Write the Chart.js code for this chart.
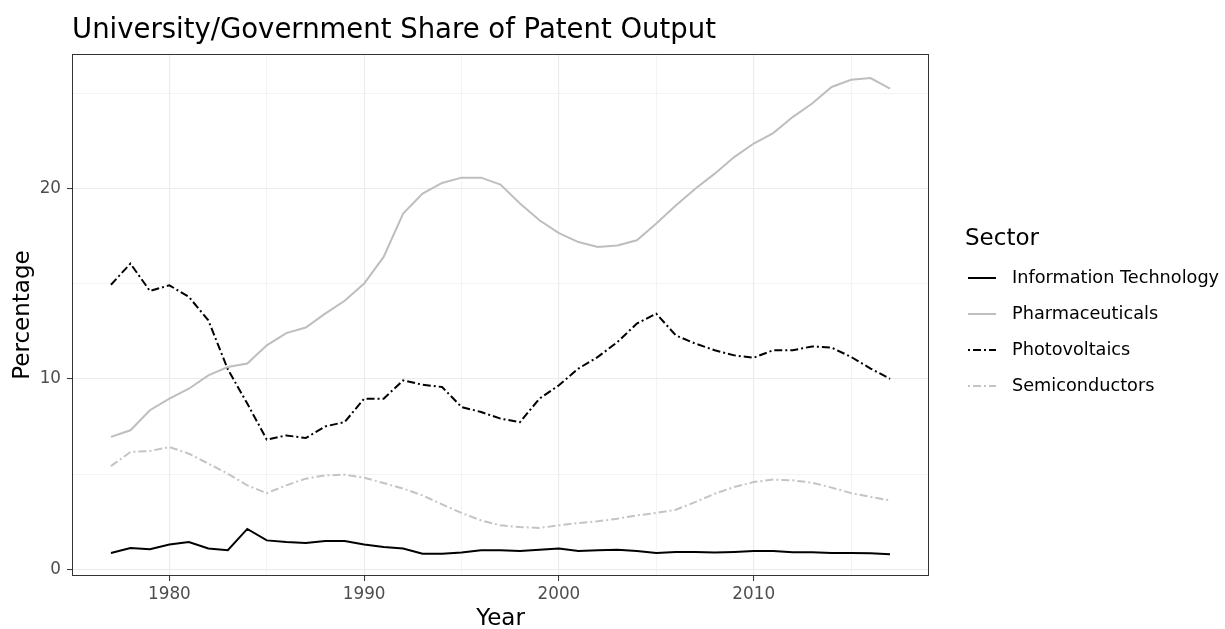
<!DOCTYPE html>
<html lang="en">
<head>
<meta charset="UTF-8">
<title>University/Government Share of Patent Output</title>
<script src="https://cdn.jsdelivr.net/npm/chart.js"></script>
<style>
  html, body { margin: 0; padding: 0; background: #fff; }
  #wrap { width: 1225px; height: 629px; }
</style>
</head>
<body>
<div id="wrap"><canvas id="patentChart" width="1225" height="629"></canvas></div>
<script>
// data
const years = [1977, 1978, 1979, 1980, 1981, 1982, 1983, 1984, 1985, 1986, 1987, 1988, 1989, 1990,
  1991, 1992, 1993, 1994, 1995, 1996, 1997, 1998, 1999, 2000, 2001, 2002, 2003, 2004, 2005, 2006,
  2007, 2008, 2009, 2010, 2011, 2012, 2013, 2014, 2015, 2016, 2017];

const infoTech = [0.86, 1.12, 1.05, 1.30, 1.43, 1.09, 1.00, 2.12, 1.52, 1.43, 1.38, 1.49, 1.49, 1.30,
  1.17, 1.09, 0.82, 0.82, 0.88, 1.00, 1.00, 0.96, 1.03, 1.09, 0.96, 1.00, 1.03, 0.96, 0.86, 0.91,
  0.91, 0.88, 0.91, 0.96, 0.96, 0.90, 0.90, 0.86, 0.86, 0.84, 0.79];

const pharma = [6.95, 7.30, 8.35, 8.96, 9.48, 10.18, 10.62, 10.80, 11.76, 12.40, 12.69, 13.42, 14.10, 15.00,
  16.40, 18.67, 19.72, 20.28, 20.56, 20.56, 20.20, 19.20, 18.32, 17.65, 17.18, 16.92, 17.00, 17.27, 18.15, 19.10,
  19.98, 20.77, 21.64, 22.35, 22.90, 23.74, 24.45, 25.32, 25.70, 25.79, 25.23];

const photovoltaics = [14.94, 16.05, 14.61, 14.91, 14.30, 13.07, 10.50, 8.70, 6.81, 7.03, 6.89, 7.50, 7.73, 8.96,
  8.96, 9.92, 9.69, 9.57, 8.52, 8.26, 7.91, 7.73, 8.96, 9.66, 10.54, 11.15, 11.93, 12.90, 13.42, 12.28,
  11.85, 11.50, 11.23, 11.11, 11.50, 11.50, 11.70, 11.64, 11.15, 10.54, 10.00];

const semis = [5.42, 6.16, 6.21, 6.42, 6.07, 5.55, 5.02, 4.41, 4.00, 4.41, 4.76, 4.93, 4.97, 4.81,
  4.53, 4.24, 3.88, 3.41, 2.96, 2.57, 2.31, 2.22, 2.17, 2.31, 2.43, 2.52, 2.66, 2.83, 2.96, 3.13,
  3.53, 3.97, 4.32, 4.58, 4.71, 4.67, 4.55, 4.29, 4.00, 3.80, 3.62];

const sectors = ['Information Technology', 'Pharmaceuticals', 'Photovoltaics', 'Semiconductors'];

// grid / tick positions (minor + major like ggplot)
const xTicks = [1975, 1980, 1985, 1990, 1995, 2000, 2005, 2010, 2015];
const xMajor = [1980, 1990, 2000, 2010];
const yTicks = [0, 5, 10, 15, 20, 25];
const yMajor = [0, 10, 20];

const FONT = "'DejaVu Sans', Verdana, sans-serif";
Chart.defaults.font.family = FONT;

const DOTDASH = [8, 3, 2, 3];

function toPoints(vals) {
  return years.map((yr, i) => ({ x: yr, y: vals[i] }));
}

// border round the whole panel (ggplot theme_bw)
const panelBorder = {
  id: 'panelBorder',
  afterDatasetsDraw(chart) {
    const { ctx, chartArea: a } = chart;
    ctx.save();
    ctx.strokeStyle = '#333333';
    ctx.lineWidth = 1;
    ctx.strokeRect(a.left + 0.5, a.top + 0.5, a.right - a.left - 1, a.bottom - a.top - 1);
    ctx.restore();
  }
};

// legend drawn in ggplot style on the right
const sectorLegend = {
  id: 'sectorLegend',
  afterDraw(chart, args, opts) {
    const ctx = chart.ctx;
    ctx.save();
    ctx.textAlign = 'left';
    ctx.textBaseline = 'middle';
    ctx.fillStyle = '#000';
    ctx.font = '23px ' + FONT;
    ctx.fillText(opts.title, opts.x, opts.titleY);
    chart.data.datasets.forEach((ds, i) => {
      const y = opts.firstY + i * opts.rowGap;
      ctx.strokeStyle = ds.borderColor;
      ctx.lineWidth = ds.borderWidth;
      ctx.setLineDash(ds.borderDash || []);
      ctx.lineDashOffset = 11;
      ctx.beginPath();
      ctx.moveTo(opts.x + 3, y);
      ctx.lineTo(opts.x + 31, y);
      ctx.stroke();
      ctx.setLineDash([]);
      ctx.fillStyle = '#000';
      ctx.font = '17.7px ' + FONT;
      ctx.fillText(ds.label, opts.x + 47, y);
    });
    ctx.restore();
  }
};

new Chart(document.getElementById('patentChart'), {
  type: 'line',
  data: {
    datasets: [
      { label: sectors[0], data: toPoints(infoTech), borderColor: '#000000', borderWidth: 2 },
      { label: sectors[1], data: toPoints(pharma), borderColor: '#BEBEBE', borderWidth: 2 },
      { label: sectors[2], data: toPoints(photovoltaics), borderColor: '#000000', borderWidth: 2, borderDash: DOTDASH },
      { label: sectors[3], data: toPoints(semis), borderColor: '#C4C4C4', borderWidth: 2, borderDash: DOTDASH }
    ]
  },
  options: {
    responsive: false,
    animation: false,
    parsing: false,
    elements: {
      point: { radius: 0 },
      line: { tension: 0, fill: false, borderCapStyle: 'butt' }
    },
    layout: { padding: { left: 0, right: 296, top: 0, bottom: 0 } },
    scales: {
      x: {
        type: 'linear',
        min: 1975,
        max: 2019,
        afterBuildTicks: s => { s.ticks = xTicks.map(v => ({ value: v })); },
        afterFit: s => { s.height = 53; },
        border: { display: false },
        grid: {
          color: '#EBEBEB',
          lineWidth: c => xMajor.includes(c.tick.value) ? 1.1 : 0.55,
          tickLength: 5,
          tickWidth: 1,
          tickColor: c => xMajor.includes(c.tick.value) ? '#333333' : 'rgba(0,0,0,0)'
        },
        ticks: {
          autoSkip: false,
          maxRotation: 0,
          padding: 4,
          color: '#4D4D4D',
          font: { size: 16.8 },
          callback: v => xMajor.includes(v) ? String(v) : ''
        },
        title: { display: true, text: 'Year', color: '#000', font: { size: 23, lineHeight: 0.9 }, padding: 0 }
      },
      y: {
        type: 'linear',
        min: -0.35,
        max: 27.05,
        afterBuildTicks: s => { s.ticks = yTicks.map(v => ({ value: v })); },
        afterFit: s => { s.width = 72; },
        border: { display: false },
        grid: {
          color: '#EBEBEB',
          lineWidth: c => yMajor.includes(c.tick.value) ? 1.1 : 0.55,
          tickLength: 5,
          tickWidth: 1,
          tickColor: c => yMajor.includes(c.tick.value) ? '#333333' : 'rgba(0,0,0,0)'
        },
        ticks: {
          autoSkip: false,
          padding: 6,
          color: '#4D4D4D',
          font: { size: 16.8 },
          callback: v => yMajor.includes(v) ? String(v) : ''
        },
        title: { display: true, text: 'Percentage', color: '#000', font: { size: 23, lineHeight: 1 }, padding: { top: 12, bottom: 0 } }
      }
    },
    plugins: {
      legend: { display: false },
      tooltip: { enabled: false },
      title: {
        display: true,
        text: 'University/Government Share of Patent Output',
        align: 'start',
        fullSize: false,
        color: '#000',
        font: { size: 27.5, weight: 'normal', lineHeight: 1.2 },
        padding: { top: 14, bottom: 7 }
      },
      sectorLegend: { title: 'Sector', x: 965, titleY: 239, firstY: 278, rowGap: 36 }
    }
  },
  plugins: [panelBorder, sectorLegend]
});
</script>
</body>
</html>
